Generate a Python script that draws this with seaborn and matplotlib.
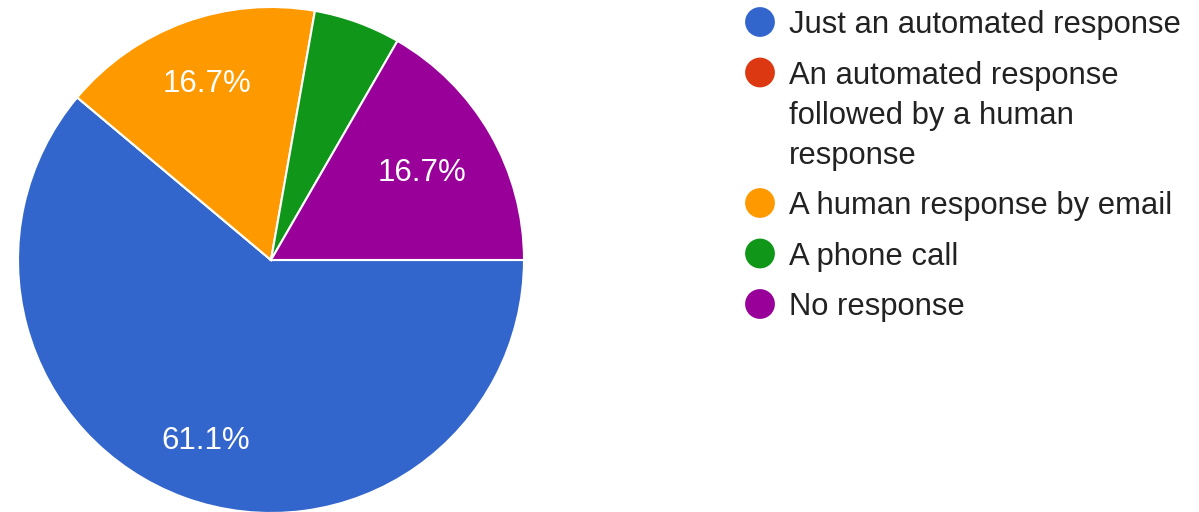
import matplotlib
matplotlib.use("Agg")
import matplotlib.pyplot as plt
import seaborn as sns

# Survey responses (18 answers in total)
categories = [
    "Just an automated response",
    "An automated response\nfollowed by a human\nresponse",
    "A human response by email",
    "A phone call",
    "No response",
]
counts = [11, 0, 3, 1, 3]
colors = ["#3366CC", "#DC3912", "#FF9900", "#109618", "#990099"]

sns.set_theme(style="white")
plt.rcParams["font.family"] = ["Liberation Sans", "DejaVu Sans"]

W, H = 1199, 512
fig = plt.figure(figsize=(W / 100, H / 100), dpi=100)
fig.patch.set_facecolor("white")
ax = fig.add_axes([0, 0, 1, 1])

palette = sns.color_palette(colors)
center = (271, 252)
radius = 253
pct_dist = 0.74

wedges, texts, autotexts = ax.pie(
    counts,
    colors=palette,
    startangle=0,
    counterclock=False,
    center=center,
    radius=radius,
    autopct=lambda p: f"{p:.1f}%" if p >= 10 else "",
    pctdistance=pct_dist,
    wedgeprops=dict(edgecolor="white", linewidth=1.5),
    textprops=dict(color="white", fontsize=22.5),
    frame=True,
)

# nudge the percentage labels radially
label_dist = [0.76, 0.74, 0.74, 0.74, 0.69]
for t, d in zip(autotexts, label_dist):
    x, y = t.get_position()
    t.set_position((center[0] + (x - center[0]) * d / pct_dist,
                    center[1] + (y - center[1]) * d / pct_dist))

ax.set_xlim(0, W)
ax.set_ylim(0, H)
ax.set_aspect("equal")
ax.axis("off")

# legend: round swatches with (possibly wrapped) labels, in pixel units
leg_font = 22.3
dot_x, text_x = 760, 789
first_y = 22          # centre of the first entry, from the top
entry_step = 50.5     # spacing between entries
line_step = 40        # spacing between wrapped lines
cap_half = 0.716 * leg_font * 100 / 72 / 2

y = first_y
for label, c in zip(categories, palette):
    ax.scatter([dot_x], [H - y], s=460, color=c, edgecolors="none",
               zorder=3, clip_on=False)
    lines = label.split("\n")
    for k, line in enumerate(lines):
        ax.text(text_x, H - (y + k * line_step) - cap_half, line,
                fontsize=leg_font, color="#222222",
                ha="left", va="baseline")
    y += entry_step + line_step * (len(lines) - 1)

fig.savefig("out.png", dpi=100, facecolor="white")
